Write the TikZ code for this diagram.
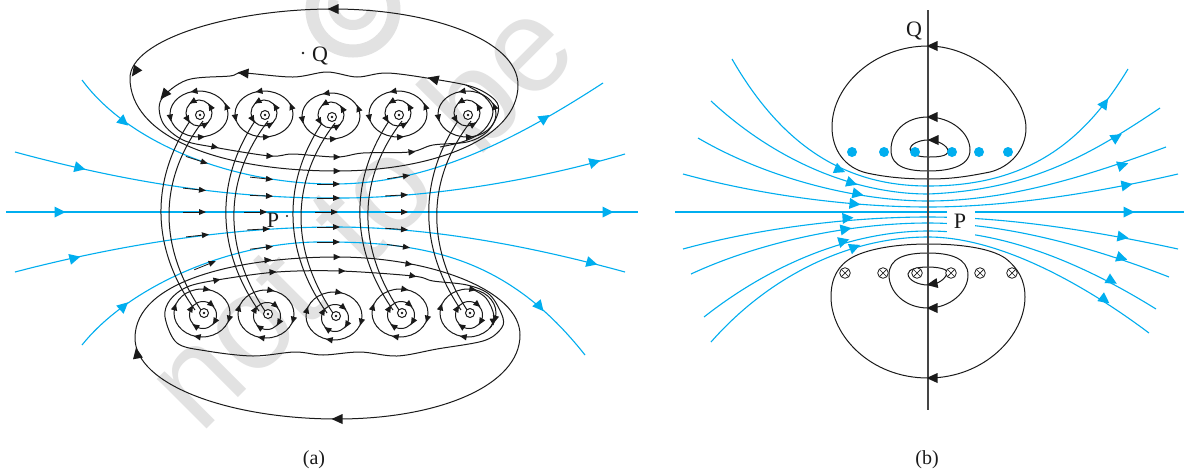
\documentclass[tikz,border=0pt]{standalone}
\usepackage{fontspec}
\setmainfont{Liberation Serif}
\newfontfamily\wmfont{Liberation Sans}
\definecolor{fieldblue}{HTML}{00AEEF}
\definecolor{axisgray}{HTML}{454545}
\definecolor{wmgray}{HTML}{E2E2E2}
\definecolor{ink}{HTML}{1A1A1A}
\newcommand\tipS[3]{\fill[ink,shift={(#1,#2)},rotate=#3] (3.5,0)--(-3.5,3.2)--(-3.5,-3.2)--cycle;}
\newcommand\tipL[3]{\fill[ink,shift={(#1,#2)},rotate=#3] (5.5,0)--(-5.5,5)--(-5.5,-5)--cycle;}
\newcommand\tipB[3]{\fill[fieldblue,shift={(#1,#2)},rotate=#3] (5.5,0)--(-5.5,5.5)--(-5.5,-5.5)--cycle;}
\newcommand\rowtip[3]{\begin{scope}[shift={(#1,#2)},rotate=#3]\draw[ink,line width=0.8pt] (-18,0)--(0,0);\fill[ink] (5,0)--(-2,3)--(-2,-3)--cycle;\end{scope}}
\newcommand\ringtips[6]{\draw[wire] (#1,#2) ellipse [x radius=#3,y radius=#4];
  \foreach \t in {#6}{\tipS{{#1+#3*cos(\t)}}{{#2-#4*sin(\t)}}{\t+90*#5}}}
\tikzset{
  wire/.style={draw=ink,line width=1pt},
  field/.style={draw=fieldblue,line width=1.1pt},
  lbl/.style={font=\fontsize{22}{24}\selectfont,text=ink,inner sep=0pt},
  caplabel/.style={font=\fontsize{20}{22}\selectfont,text=ink,inner sep=0pt},
}
\begin{document}
\begin{tikzpicture}[x=1pt,y=-1pt]
\useasboundingbox (0,0) rectangle (1184,475);
\clip (0,0) rectangle (1184,475);
\fill[white] (0,0) rectangle (1184,475);
% watermark
\node[rotate=45,anchor=base west,inner sep=0pt,text=wmgray,font=\wmfont\fontsize{133}{140}\selectfont] (wmark) at (200,436) {not\hspace{0.36em}to\hspace{0.36em}be};
\draw[wmgray,line width=13pt] (353,10) circle [radius=41];
\draw[wmgray,line width=10pt] plot[smooth,domain=15:195,samples=25] ({353+20*cos(\x)},{5+20*sin(\x)});

% ---------- (a) blue field lines ----------
\draw[field] (6,212) -- (638,212);
\draw[field] (15,152) .. controls (140,186) and (240,198) .. (330,198) .. controls (420,199) and (530,182) .. (625,154);
\draw[field] (82,80) .. controls (130,145) and (235,184) .. (333,184) .. controls (420,184) and (500,150) .. (603,83);
\draw[field] (15,272) .. controls (130,242) and (240,227) .. (335,227) .. controls (430,227) and (530,246) .. (625,272);
\draw[field] (82,345) .. controls (130,285) and (235,240) .. (327,242) .. controls (430,242) and (510,260) .. (585,355);
\tipB{60}{212}{0}\tipB{608}{212}{0}
\tipB{80}{168}{-14}\tipB{595}{162}{16}
\tipB{124}{122}{-40}\tipB{545}{118}{33}
\tipB{75}{258}{14}\tipB{592}{263}{-15}
\tipB{124}{306}{42}\tipB{540}{307}{-50}

% black row arrows over the field lines
\rowtip{203}{162}{-18}\rowtip{268}{179}{-6}\rowtip{335}{184}{0}\rowtip{405}{176}{9}
\rowtip{201}{190}{-6}\rowtip{268}{196}{-2}\rowtip{335}{198}{0}\rowtip{403}{195}{3}
\rowtip{201}{212}{0}\rowtip{262}{212}{0}\rowtip{333}{212}{0}\rowtip{403}{212}{0}
\rowtip{204}{235}{6}\rowtip{265}{229}{3}\rowtip{335}{227}{0}\rowtip{403}{229.5}{-4}
\rowtip{211}{263}{22}\rowtip{268}{247}{7}\rowtip{335}{242}{0}\rowtip{405}{247}{-8}

% ---------- (a) top envelope ----------
\draw[wire] (333,9) .. controls (230,9) and (130,40) .. (130,78) .. controls (130,135) and (215,171) .. (337,171) .. controls (430,171) and (518,140) .. (518,85) .. controls (518,40) and (430,9) .. (333,9) -- cycle;
\draw[wire] plot[smooth cycle,tension=0.55] coordinates {(161,100)(187,80)(230,76)(243,73)(293,77)(327,72)(357,77)(387,73)(433,79)(473,87)(495,100)(498,113)(487,132)(467,142)(433,145)(410,152)(363,153)(337,157)(293,154)(270,156)(213,147)(183,140)(163,123)};
\draw[wire] plot[smooth,tension=0.6] coordinates {(466,85)(485,97)(493,112)(484,130)(465,141)(440,147)};
\tipL{333}{9}{180}\tipL{135}{72}{-125}
\tipL{243}{73}{175}\tipL{433}{79}{165}\tipL{164}{95}{-130}
\tipS{215}{147}{-12}\tipS{270}{156}{-3}\tipS{337}{157}{0}\tipS{412}{152}{6}
\tipS{337}{171}{0}

% ---------- (a) bottom envelope ----------
\draw[wire] (337,257) .. controls (240,257) and (135,280) .. (135,338) .. controls (135,385) and (230,419) .. (337,419) .. controls (440,419) and (520,385) .. (520,335) .. controls (520,290) and (430,257) .. (337,257) -- cycle;
\draw[wire] plot[smooth cycle,tension=0.55] coordinates {(165,317)(177,343)(207,351)(253,356)(295,352)(323,355)(360,352)(397,356)(437,349)(483,341)(500,330)(503,318)(490,295)(467,285)(433,281)(413,276)(340,271)(277,272)(217,280)(187,287)(170,300)};
\draw[wire] plot[smooth,tension=0.6] coordinates {(470,288)(486,298)(494,316)(490,328)};
\tipL{337}{419}{180}\tipL{137}{353}{100}
\tipS{217}{280}{12}\tipS{273}{272}{3}\tipS{342}{271}{0}\tipS{413}{276}{-12}
\tipS{268}{260}{5}\tipS{337}{257}{0}\tipS{409}{264}{-8}\tipS{493}{322}{-85}

% ---------- (a) coils ----------
\foreach \tx/\ty/\bx/\by in {200/115/204/313,265/115/268/314,332/117/336/316,399/115/402/313,468/115/470/313}{
  \ringtips{\tx-1}{\ty-1}{29}{23}{1}{100,20,275,190}
  \ringtips{\tx-1}{\ty-2}{13}{13}{1}{120,30,210,300}
  \ringtips{\bx-2}{\by}{28}{24}{-1}{80,165,260,345}
  \ringtips{\bx-1}{\by+2}{13.5}{13.5}{-1}{150,50,330,235}
  \draw[wire] (\tx-10,\ty+6) .. controls (\tx-49.5,\ty+65) and (\tx-49.5,\by-65) .. (\bx-9,\by-3);
  \draw[wire] (\tx+3,\ty+6) .. controls (\tx-42.3,\ty+65) and (\tx-42.3,\by-65) .. (\bx-1,\by);
  \draw[wire,fill=white] (\tx,\ty) circle [radius=4.5];
  \fill[ink] (\tx,\ty) circle [radius=1.4];
  \draw[wire,fill=white] (\bx,\by) circle [radius=4.5];
  \fill[ink] (\bx,\by) circle [radius=1.4];
}
\node[lbl] (qa) at (320,56) {Q};
\fill[ink] (303,53) circle [radius=1.4];
\node[lbl] (pa) at (273,220) {P};
\fill[ink] (287,216) circle [radius=1.2];
\node[caplabel] (capa) at (314,460) {(a)};

% ---------- (b) blue field lines ----------
\draw[field] (732,59) .. controls (790,160) and (860,186) .. (928,186) .. controls (1030,186) and (1085,140) .. (1128,69);
\draw[field] (711,101) .. controls (780,165) and (860,194) .. (928,194) .. controls (1030,190) and (1090,155) .. (1160,108);
\draw[field] (698,138) .. controls (770,180) and (860,201) .. (928,201) .. controls (1010,201) and (1090,175) .. (1166,147);
\draw[field] (683,174) .. controls (760,195) and (850,207) .. (928,207) .. controls (1010,207) and (1100,192) .. (1178,174);
\draw[field] (675,212) -- (1184,212);
\draw[field] (683,249) .. controls (760,228) and (850,217) .. (928,217) .. controls (1010,217) and (1100,232) .. (1178,249);
\draw[field] (691,274) .. controls (760,242) and (850,223) .. (928,223) .. controls (1010,223) and (1100,250) .. (1169,277);
\draw[field] (704,317) .. controls (770,265) and (850,231) .. (928,231) .. controls (1010,231) and (1090,268) .. (1156,309);
\draw[field] (711,342) .. controls (770,275) and (850,237) .. (928,237) .. controls (1000,237) and (1085,285) .. (1149,333);
\tipB{840}{170}{-22}\tipB{852}{183}{-18}\tipB{858}{194}{-12}\tipB{855}{204}{-6}
\tipB{848}{218}{4}\tipB{846}{229}{10}\tipB{844}{241}{16}\tipB{855}{247}{22}
\tipB{1105}{103}{55}\tipB{1117}{137}{32}\tipB{1123}{165}{18}\tipB{1127}{185}{10}\tipB{1129}{212}{0}
\tipB{1123}{237}{-10}\tipB{1122}{258}{-18}\tipB{1112}{281}{-30}\tipB{1105}{300}{-37}
\fill[white] (947,209) rectangle (975,236);
\node[lbl] (pb) at (960,221) {P};

% ---------- (b) black loops ----------
\draw[wire] (928,46) .. controls (980,46) and (1026,95) .. (1026,128) .. controls (1026,150) and (1010,167) .. (990,172) .. controls (965,177) and (950,179) .. (928,179) .. controls (905,179) and (885,177) .. (867,173) .. controls (845,168) and (832,150) .. (832,127) .. controls (832,85) and (875,46) .. (928,46) -- cycle;
\draw[wire] (928,117) .. controls (950,117) and (970,132) .. (970,150) .. controls (970,168) and (945,171) .. (928,171) .. controls (910,171) and (891,168) .. (891,150) .. controls (891,132) and (905,117) .. (928,117) -- cycle;
\draw[wire] (928,140) .. controls (938,140) and (948,146) .. (948,151) .. controls (948,157) and (935,157) .. (928,157) .. controls (920,157) and (910,155) .. (910,149) .. controls (910,145) and (918,140) .. (928,140) -- cycle;
\draw[wire] (928,244) .. controls (960,244) and (990,248) .. (1005,258) .. controls (1018,268) and (1025,280) .. (1025,297) .. controls (1025,335) and (985,378) .. (928,378) .. controls (870,378) and (831,335) .. (831,297) .. controls (831,278) and (838,265) .. (853,257) .. controls (870,248) and (900,244) .. (928,244) -- cycle;
\draw[wire] (928,253) .. controls (950,253) and (968,258) .. (968,275) .. controls (968,292) and (950,308) .. (928,308) .. controls (905,308) and (889,292) .. (889,275) .. controls (889,258) and (905,253) .. (928,253) -- cycle;
\draw[wire] (928,267) .. controls (938,267) and (947,269) .. (947,272) .. controls (947,278) and (938,285) .. (928,285) .. controls (918,285) and (908,280) .. (908,274) .. controls (908,269) and (918,267) .. (928,267) -- cycle;
\draw[axisgray,line width=1.1pt] (928,10) -- (928,410);
\tipL{932}{46}{180}\tipL{932}{117}{180}\tipL{933}{140}{180}
\tipL{932}{284}{190}\tipL{932}{308}{180}\tipL{932}{378}{180}
\foreach \x in {852,884,915,952,979,1008}{\fill[fieldblue] (\x,152) circle [radius=5];}
\foreach \x in {845,883,917,951,980,1012}{
  \draw[ink,line width=0.8pt,fill=white] (\x,273) circle [radius=5.3];
  \draw[ink,line width=0.7pt] (\x-3.7,269.3) -- (\x+3.7,276.7) (\x-3.7,276.7) -- (\x+3.7,269.3);
}
\node[lbl] (qb) at (914,31) {Q};
\node[caplabel] (capb) at (927,460) {(b)};
\end{tikzpicture}
\end{document}
